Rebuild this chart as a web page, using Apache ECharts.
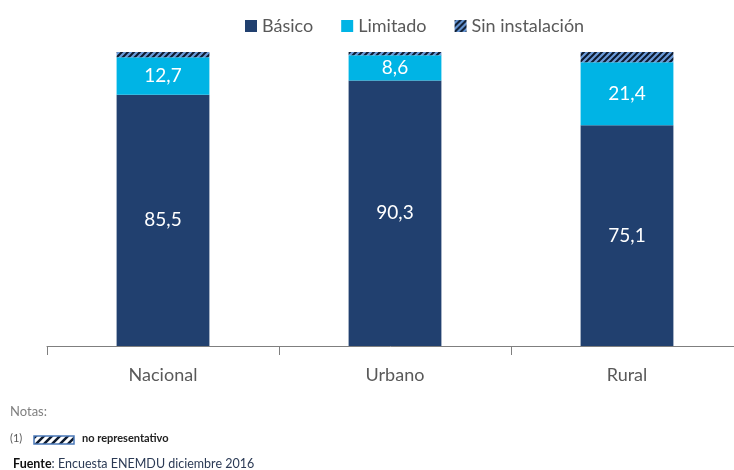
<!DOCTYPE html>
<html>
<head>
<meta charset="utf-8">
<script src="https://cdn.jsdelivr.net/npm/echarts@6/dist/echarts.min.js"></script>
<style>
  html, body { margin: 0; padding: 0; background: #fff; }
  #chart { width: 734px; height: 470px; }
</style>
</head>
<body>
<div id="chart"></div>
<script>
// categories and shares (%)
const categories = ['Nacional', 'Urbano', 'Rural']
const basico = [85.5, 90.3, 75.1]
const limitado = [12.7, 8.6, 21.4]
const sinInstalacion = [1.8, 1.1, 3.5]

const navy = '#21406f'
const cyan = '#00b4e5'

// hatched fill: diagonal dark strokes on a light background
function makeHatch(size, bg, lw) {
  const c = document.createElement('canvas')
  c.width = size
  c.height = size
  const ctx = c.getContext('2d')
  ctx.fillStyle = bg
  ctx.fillRect(0, 0, size, size)
  ctx.strokeStyle = '#0d1a2e'
  ctx.lineWidth = lw
  ctx.beginPath()
  ctx.moveTo(-1, size + 1)
  ctx.lineTo(size + 1, -1)
  ctx.moveTo(-1, 1)
  ctx.lineTo(1, -1)
  ctx.moveTo(size - 1, size + 1)
  ctx.lineTo(size + 1, size - 1)
  ctx.stroke()
  return c
}
const hatch = { image: makeHatch(6, '#6a9ad9', 2), repeat: 'repeat' }
const noteHatch = { image: makeHatch(8, '#ffffff', 2.5), repeat: 'repeat' }

const fmt = (p) => String(p.value).replace('.', ',')

const label = {
  show: true,
  color: '#fff',
  fontSize: 19,
  fontFamily: 'Lato',
  formatter: fmt
}

const chart = echarts.init(document.getElementById('chart'))
chart.setOption({
  animation: false,
  textStyle: { fontFamily: 'Lato' },
  grid: { left: 47, top: 52, bottom: 124, width: 696, outerBoundsMode: 'none', containLabel: false },
  legend: {
    top: 12,
    left: 240,
    itemWidth: 12,
    itemHeight: 12,
    itemGap: 28,
    textStyle: { fontSize: 18, color: '#595959', fontFamily: 'Lato' },
    data: [
      { name: 'Básico', icon: 'rect' },
      { name: 'Limitado', icon: 'rect' },
      { name: 'Sin instalación', icon: 'rect' }
    ]
  },
  xAxis: {
    type: 'category',
    data: categories,
    axisLine: { lineStyle: { color: '#7f7f7f', width: 1 } },
    axisTick: { show: true, interval: 0, length: 9, lineStyle: { color: '#7f7f7f' } },
    axisLabel: { fontSize: 18, color: '#595959', margin: 20 }
  },
  yAxis: {
    type: 'value',
    min: 0,
    max: 100,
    show: false
  },
  series: [
    {
      name: 'Básico',
      type: 'bar',
      stack: 'total',
      barWidth: '40%',
      data: basico,
      itemStyle: { color: navy },
      label: label
    },
    {
      name: 'Limitado',
      type: 'bar',
      stack: 'total',
      data: limitado,
      itemStyle: { color: cyan },
      label: label
    },
    {
      name: 'Sin instalación',
      type: 'bar',
      stack: 'total',
      data: sinInstalacion,
      itemStyle: { color: hatch }
    }
  ],
  graphic: [
    {
      type: 'text', left: 10, top: 405,
      style: { text: 'Notas:', fontSize: 13, fill: '#7f7f7f', fontFamily: 'Lato' }
    },
    {
      type: 'text', left: 10, top: 433,
      style: { text: '(1)', fontSize: 11, fill: '#595959', fontFamily: 'Lato' }
    },
    {
      type: 'rect', shape: { x: 34, y: 436, width: 40, height: 8 },
      style: { fill: noteHatch, stroke: '#4a78b8', lineWidth: 1.5 }
    },
    {
      type: 'text', left: 82, top: 433,
      style: { text: 'no representativo', fontSize: 11, fontWeight: 'bold', fill: '#222', fontFamily: 'Lato' }
    },
    {
      type: 'text', left: 13, top: 457,
      style: {
        text: '{b|Fuente}: Encuesta ENEMDU diciembre 2016',
        fontSize: 12.5, fill: '#2b3a55', fontFamily: 'Lato',
        rich: { b: { fontWeight: 'bold', fontSize: 12.5, fill: '#111', fontFamily: 'Lato' } }
      }
    }
  ]
})
</script>
</body>
</html>
